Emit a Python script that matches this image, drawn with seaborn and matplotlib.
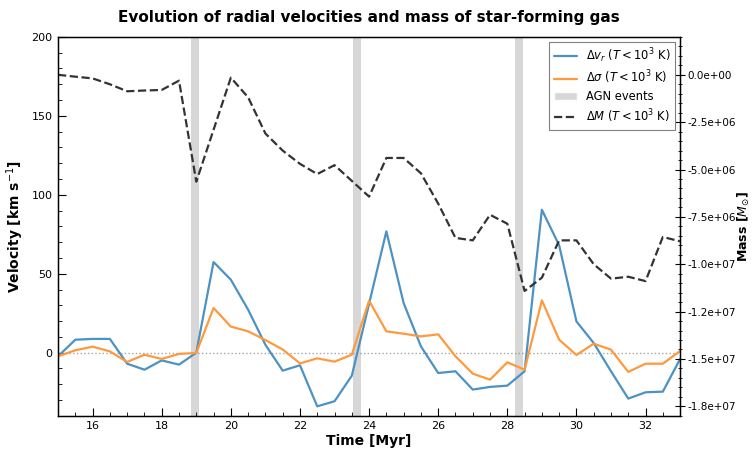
import matplotlib
matplotlib.use('Agg')
import matplotlib.pyplot as plt
import seaborn as sns
from matplotlib.patches import Patch
from matplotlib.lines import Line2D
from matplotlib.ticker import MultipleLocator, FormatStrFormatter

# time [Myr]
time = [15.0, 15.5, 16.0, 16.5, 17.0, 17.5, 18.0, 18.5, 19.0, 19.5,
        20.0, 20.5, 21.0, 21.5, 22.0, 22.5, 23.0, 23.5, 24.0, 24.5,
        25.0, 25.5, 26.0, 26.5, 27.0, 27.5, 28.0, 28.5, 29.0, 29.5,
        30.0, 30.5, 31.0, 31.5, 32.0, 32.5, 33.0]

# delta radial velocity [km/s]
dv_r = [-2.3, 8.2, 8.7, 8.7, -7.0, -10.8, -4.9, -7.6, 0.0, 57.4,
        46.2, 27.2, 5.0, -11.4, -8.0, -34.0, -30.8, -14.6, 31.0, 76.8,
        31.4, 4.0, -12.9, -11.8, -23.4, -21.7, -20.9, -11.8, 90.5, 68.0,
        19.8, 6.1, -11.8, -29.1, -25.1, -24.7, -4.0]

# delta velocity dispersion [km/s]
dsigma = [-2.3, 1.5, 3.8, 0.8, -5.9, -1.3, -4.0, -0.8, -0.2, 28.3,
          16.5, 13.5, 8.0, 2.0, -6.8, -3.6, -5.7, -1.3, 32.9, 13.5,
          12.0, 10.3, 11.6, -2.3, -13.3, -17.1, -6.1, -10.8, 33.1, 8.2,
          -1.5, 5.7, 1.9, -12.2, -7.0, -7.0, 1.0]

# delta mass of cold gas [Msun]
dmass = [0.0, -0.1e6, -0.19e6, -0.5e6, -0.87e6, -0.83e6, -0.8e6, -0.31e6, -5.64e6, -2.9e6,
         -0.15e6, -1.19e6, -3.1e6, -4.0e6, -4.7e6, -5.24e6, -4.77e6, -5.6e6, -6.43e6, -4.39e6,
         -4.39e6, -5.2e6, -6.8e6, -8.61e6, -8.74e6, -7.39e6, -7.86e6, -11.41e6, -10.71e6, -8.74e6,
         -8.74e6, -10.0e6, -10.76e6, -10.66e6, -10.89e6, -8.56e6, -8.79e6]

# AGN event times [Myr]
agn_times = [18.95, 23.65, 28.35]

sns.set_style('ticks')
plt.rcParams['font.family'] = ['DejaVu Sans']
plt.rcParams.update({
    'text.color': 'black', 'axes.labelcolor': 'black', 'axes.edgecolor': 'black',
    'xtick.color': 'black', 'ytick.color': 'black',
})

blue = '#4c92c3'
orange = '#ff993e'
dark = '#333333'

fig, ax = plt.subplots(figsize=(7.54, 4.5), dpi=100)
fig.subplots_adjust(left=0.077, right=0.902, top=0.918, bottom=0.076)

for t in agn_times:
    ax.axvspan(t - 0.115, t + 0.115, color='lightgrey', alpha=0.9, lw=0, zorder=0)

ax.axhline(0, color='grey', ls=':', lw=1, alpha=0.7, zorder=1)
sns.lineplot(x=time, y=dv_r, ax=ax, color=blue, lw=1.6, legend=False)
sns.lineplot(x=time, y=dsigma, ax=ax, color=orange, lw=1.6, legend=False)

ax.set_xlim(15, 33)
ax.set_ylim(-40, 200)
ax.xaxis.set_major_locator(MultipleLocator(2))
ax.xaxis.set_minor_locator(MultipleLocator(0.5))
ax.yaxis.set_major_locator(MultipleLocator(50))
ax.yaxis.set_minor_locator(MultipleLocator(10))
ax.tick_params(which='both', direction='in', labelsize=8, pad=4)
ax.tick_params(which='major', length=6)
ax.tick_params(which='minor', length=3)
for sp in ax.spines.values():
    sp.set_linewidth(1.0)
ax.set_xlabel('Time [Myr]', fontsize=10, fontweight='bold', labelpad=2)
ax.set_ylabel(r'Velocity [km s$^{-1}$]', fontsize=10, fontweight='bold', labelpad=4)
ax.set_title('Evolution of radial velocities and mass of star-forming gas',
             fontsize=11, fontweight='bold', pad=11)

ax2 = ax.twinx()
sns.lineplot(x=time, y=dmass, ax=ax2, color=dark, lw=1.6, ls='--', legend=False)
ax2.set_ylim(-1.8e7, 2e6)
ax2.yaxis.set_major_locator(MultipleLocator(2.5e6))
ax2.yaxis.set_minor_locator(MultipleLocator(5e5))
ax2.yaxis.set_major_formatter(FormatStrFormatter('%.1e'))
ax2.tick_params(which='both', direction='inout', labelsize=7.5, pad=2)
ax2.tick_params(which='major', length=7)
ax2.tick_params(which='minor', length=3.5)
ax2.set_ylabel(r'Mass [$M_{\odot}$]', fontsize=9, fontweight='bold')
ax2.yaxis.set_label_coords(1.089, 0.5)

handles = [
    Line2D([], [], color=blue, lw=1.6),
    Line2D([], [], color=orange, lw=1.6),
    Patch(facecolor='lightgrey', alpha=0.9),
    Line2D([], [], color=dark, lw=1.6, ls='--'),
]
labels = [r'$\Delta v_r$ $(T < 10^3$ K$)$',
          r'$\Delta \sigma$ $(T < 10^3$ K$)$',
          'AGN events',
          r'$\Delta M$ $(T < 10^3$ K$)$']
leg = ax2.legend(handles, labels, loc='upper right', fontsize=8.3,
                 fancybox=False, framealpha=1, edgecolor='grey',
                 labelspacing=0.35, borderaxespad=0.4)
leg.get_frame().set_linewidth(0.8)

fig.savefig('out.png', dpi=100)
